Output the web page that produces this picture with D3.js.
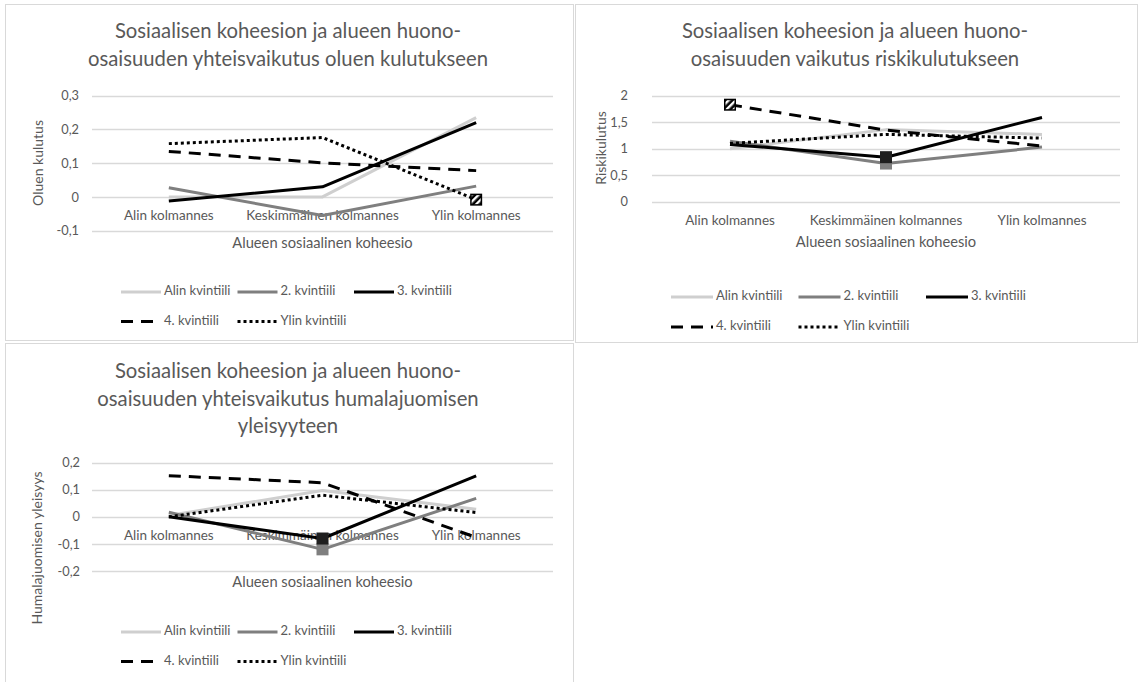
<!DOCTYPE html>
<html>
<head>
<meta charset="utf-8">
<script src="https://cdn.jsdelivr.net/npm/d3@7"></script>
<style>
  body { margin: 0; background: #fff; }
  text { font-family: Lato, "Open Sans", sans-serif; fill: #595959; }
</style>
</head>
<body>
<svg id="chart" width="1140" height="682"></svg>
<script>
// ---- data ----
const categories = ["Alin kolmannes", "Keskimmäinen kolmannes", "Ylin kolmannes"];
const seriesNames = ["Alin kvintiili", "2. kvintiili", "3. kvintiili", "4. kvintiili", "Ylin kvintiili"];

// oluen kulutus, one row per income quintile, one value per cohesion third
const beerValues = [
  [0.000, 0.000, 0.235],
  [0.027, -0.055, 0.032],
  [-0.012, 0.030, 0.220],
  [0.135, 0.101, 0.078],
  [0.158, 0.176, -0.008]
];
// riskikulutus
const riskValues = [
  [1.00, 1.36, 1.27],
  [1.14, 0.72, 1.03],
  [1.08, 0.84, 1.59],
  [1.83, 1.35, 1.05],
  [1.10, 1.27, 1.20]
];
// humalajuomisen yleisyys
const bingeValues = [
  [0.005, 0.097, 0.028],
  [0.017, -0.120, 0.068],
  [0.000, -0.080, 0.151],
  [0.152, 0.126, -0.076],
  [0.000, 0.080, 0.016]
];

const beerTicks = [-0.1, 0, 0.1, 0.2, 0.3];
const riskTicks = [0, 0.5, 1, 1.5, 2];
const bingeTicks = [-0.2, -0.1, 0, 0.1, 0.2];

const beerTitle = ["Sosiaalisen koheesion ja alueen huono-", "osaisuuden yhteisvaikutus oluen kulutukseen"];
const riskTitle = ["Sosiaalisen koheesion ja alueen huono-", "osaisuuden vaikutus riskikulutukseen"];
const bingeTitle = ["Sosiaalisen koheesion ja alueen huono-", "osaisuuden yhteisvaikutus humalajuomisen", "yleisyyteen"];

const xTitle = "Alueen sosiaalinen koheesio";
const beerYTitle = "Oluen kulutus";
const riskYTitle = "Riskikulutus";
const bingeYTitle = "Humalajuomisen yleisyys";

// highlighted points: series index, category index, marker kind
const beerMarkers = [{ s: 4, c: 2, kind: "hatch" }];
const riskMarkers = [{ s: 3, c: 0, kind: "hatch" }, { s: 1, c: 1, kind: "solid" }, { s: 2, c: 1, kind: "solid" }];
const bingeMarkers = [{ s: 1, c: 1, kind: "solid" }, { s: 2, c: 1, kind: "solid" }];

// ---- styling ----
const seriesColor = ["#cfcfcf", "#7f7f7f", "#000000", "#000000", "#000000"];
const seriesDash = [null, null, null, "12 8", "3 3"];
const textColor = "#595959";
const gridColor = "#d9d9d9";

const fmt = d3.formatLocale({ decimal: ",", thousands: " ", grouping: [3], currency: ["", " €"], minus: "-" }).format("");

const svg = d3.select("#chart");

// hatched marker fill
const defs = svg.append("defs");
const pat = defs.append("pattern")
  .attr("id", "hatch")
  .attr("patternUnits", "userSpaceOnUse")
  .attr("width", 5).attr("height", 5)
  .attr("patternTransform", "rotate(45)");
pat.append("rect").attr("width", 5).attr("height", 5).attr("fill", "#000");
pat.append("rect").attr("width", 2.4).attr("height", 5).attr("fill", "#fff");

function drawPanel(cfg) {
  const g = svg.append("g");

  // chart frame
  g.append("rect")
    .attr("x", cfg.frame[0] + 0.5).attr("y", cfg.frame[1] + 0.5)
    .attr("width", cfg.frame[2]).attr("height", cfg.frame[3])
    .attr("fill", "#fff").attr("stroke", gridColor).attr("stroke-width", 1);

  // title
  cfg.title.forEach((line, i) => {
    g.append("text")
      .attr("x", cfg.titleX).attr("y", cfg.titleY + i * 27.5)
      .attr("text-anchor", "middle").attr("dominant-baseline", "middle")
      .style("font-size", "20.3px")
      .text(line);
  });

  const x = d3.scaleBand().domain(categories).range(cfg.xRange);
  const y = d3.scaleLinear().domain(d3.extent(cfg.ticks)).range(cfg.yRange);
  const cx = c => x(c) + x.bandwidth() / 2;

  // gridlines
  g.selectAll(".grid").data(cfg.ticks).join("line")
    .attr("x1", cfg.xRange[0]).attr("x2", cfg.xRange[1])
    .attr("y1", d => Math.round(y(d)) + 0.5).attr("y2", d => Math.round(y(d)) + 0.5)
    .attr("stroke", gridColor).attr("stroke-width", 1.3);

  // value axis tick labels
  const yAxis = d3.axisLeft(y).tickValues(cfg.ticks).tickFormat(fmt).tickSize(0).tickPadding(0);
  const ya = g.append("g").attr("transform", `translate(${cfg.tickRight},0)`).call(yAxis);
  ya.select(".domain").remove();
  ya.selectAll("text").style("font-size", "12.8px").attr("fill", textColor).attr("font-family", null);

  // category labels sit just under the zero line
  const xAxis = d3.axisBottom(x).tickSize(0).tickPadding(0);
  const xa = g.append("g").attr("transform", `translate(0,${y(0) + 13.5})`).call(xAxis);
  xa.select(".domain").remove();
  xa.selectAll("text").style("font-size", "13.5px").attr("fill", textColor).attr("font-family", null);

  // axis titles
  g.append("text")
    .attr("x", (cfg.xRange[0] + cfg.xRange[1]) / 2).attr("y", cfg.xTitleY)
    .attr("text-anchor", "middle").attr("dominant-baseline", "middle")
    .style("font-size", "14.7px").text(xTitle);
  g.append("text")
    .attr("transform", `translate(${cfg.yTitleX},${cfg.yTitleY}) rotate(-90)`)
    .attr("text-anchor", "middle").attr("dominant-baseline", "middle")
    .style("font-size", "14px").text(cfg.yTitle);

  // series lines
  const line = d3.line().x((d, i) => cx(categories[i])).y(d => y(d));
  cfg.values.forEach((vals, s) => {
    g.append("path")
      .attr("d", line(vals))
      .attr("fill", "none")
      .attr("stroke", seriesColor[s])
      .attr("stroke-width", 3)
      .attr("stroke-linejoin", "round")
      .attr("stroke-dasharray", seriesDash[s]);
  });

  // highlighted points
  const ms = 12;
  cfg.markers.forEach(m => {
    const px = cx(categories[m.c]);
    const py = y(cfg.values[m.s][m.c]);
    if (m.kind === "hatch") {
      g.append("rect")
        .attr("x", px - ms / 2 + 0.75).attr("y", py - ms / 2 + 0.75)
        .attr("width", ms - 1.5).attr("height", ms - 1.5)
        .attr("fill", "url(#hatch)").attr("stroke", "#000").attr("stroke-width", 1.5);
    } else {
      g.append("rect")
        .attr("x", px - ms / 2).attr("y", py - ms / 2)
        .attr("width", ms).attr("height", ms)
        .attr("fill", seriesColor[m.s] === "#000000" ? "#1f1f1f" : seriesColor[m.s]);
    }
  });

  // legend: three columns on first row, two on the second
  seriesNames.forEach((name, i) => {
    const col = i < 3 ? i : i - 3;
    const row = i < 3 ? 0 : 1;
    const lx = cfg.legendX + col * cfg.legendCol;
    const ly = cfg.legendY + row * cfg.legendRow;
    g.append("line")
      .attr("x1", lx).attr("x2", lx + cfg.legendSample)
      .attr("y1", ly).attr("y2", ly)
      .attr("stroke", seriesColor[i]).attr("stroke-width", 3)
      .attr("stroke-dasharray", seriesDash[i]);
    g.append("text")
      .attr("x", lx + cfg.legendSample + 3).attr("y", ly)
      .attr("dominant-baseline", "middle")
      .style("font-size", "13px").text(name);
  });
}

drawPanel({
  frame: [5, 4, 568, 336],
  title: beerTitle, titleX: 288, titleY: 33,
  xRange: [92, 553], yRange: [230.7, 95.7], ticks: beerTicks,
  tickRight: 79, xTitleY: 244, yTitleX: 39, yTitleY: 163, yTitle: beerYTitle,
  values: beerValues, markers: beerMarkers,
  legendX: 121, legendY: 292, legendCol: 116.5, legendRow: 29.5, legendSample: 40
});

drawPanel({
  frame: [575, 4, 562, 338],
  title: riskTitle, titleX: 855, titleY: 33,
  xRange: [652, 1120], yRange: [201.7, 95.7], ticks: riskTicks,
  tickRight: 628, xTitleY: 243, yTitleX: 602, yTitleY: 148, yTitle: riskYTitle,
  values: riskValues, markers: riskMarkers,
  legendX: 671, legendY: 297, legendCol: 127.5, legendRow: 30, legendSample: 42
});

drawPanel({
  frame: [5, 343, 568, 345],
  title: bingeTitle, titleX: 288, titleY: 373,
  xRange: [92, 553], yRange: [571, 462.7], ticks: bingeTicks,
  tickRight: 80, xTitleY: 583.5, yTitleX: 38, yTitleY: 548, yTitle: bingeYTitle,
  values: bingeValues, markers: bingeMarkers,
  legendX: 121, legendY: 632, legendCol: 116.5, legendRow: 29.5, legendSample: 40
});
</script>
</body>
</html>
